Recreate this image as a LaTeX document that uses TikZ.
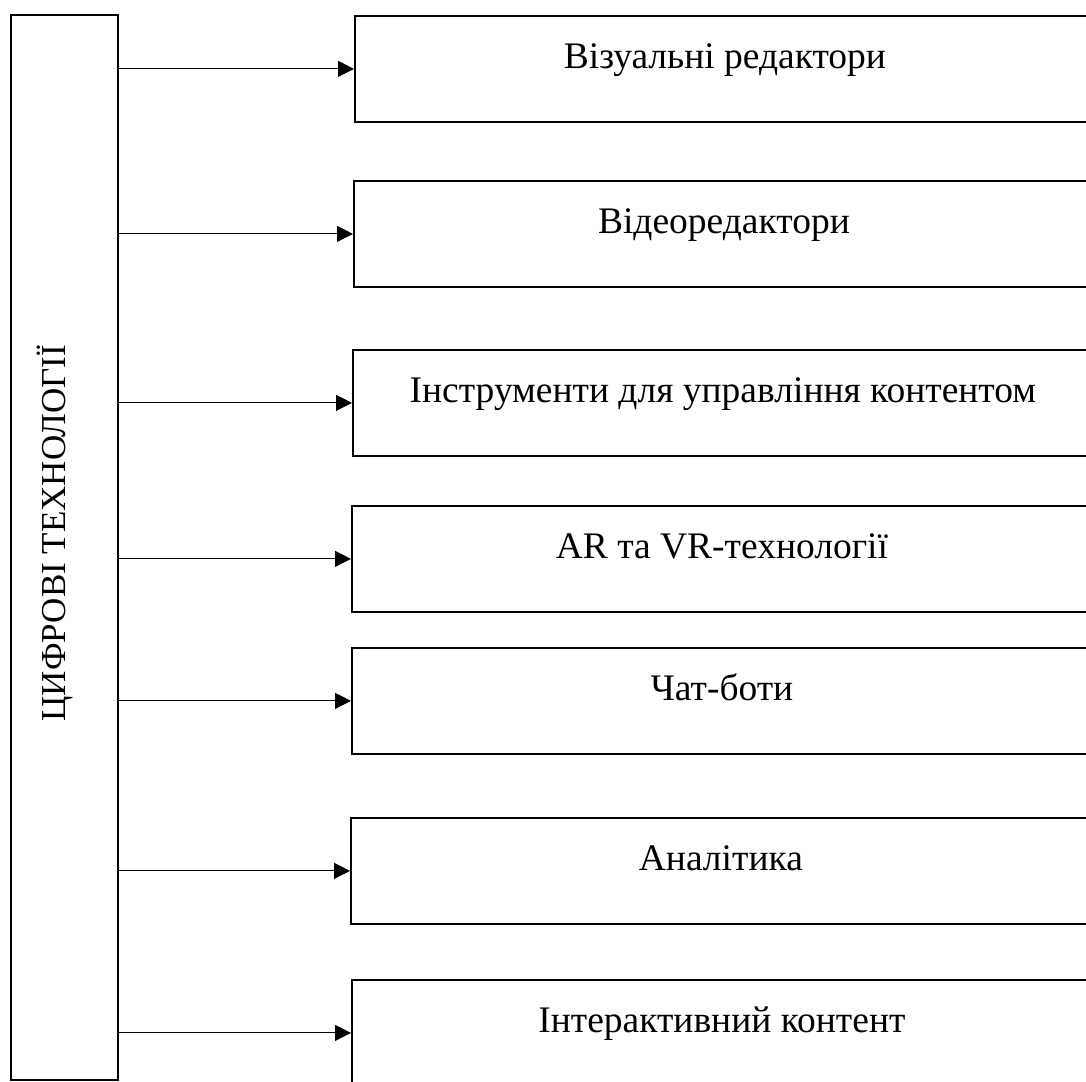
\documentclass[tikz,border=0pt]{standalone}
\usepackage{fontspec}
\setmainfont{Liberation Serif}
\usetikzlibrary{arrows.meta, positioning}
\tikzset{
  techbox/.style={rectangle, draw=black, line width=1.8pt,
    minimum width=107pt, minimum height=1065pt, inner sep=0pt},
  toolbox/.style={rectangle, draw=black, line width=1.8pt, anchor=north west,
    minimum width=740pt, minimum height=106pt, inner sep=0pt,
    font=\fontsize{37.5}{44}\selectfont, text height=25pt, text depth=25pt},
  arrow/.style={-{Triangle[length=16pt, width=16pt]}, line width=0.9pt, color=black}
}

\begin{document}
\begin{tikzpicture}[x=1pt, y=-1pt]
  \useasboundingbox (0,0) rectangle (1086,1081);
  % left column
  \node[techbox] (tech) at (64.5,547.5) {};
  \node[rotate=90, font=\fontsize{35}{42}\selectfont] (techlabel) at (55,533) {ЦИФРОВІ ТЕХНОЛОГІЇ};
  % right column
  \node[toolbox] (visual) at (354,15)  {Візуальні редактори};
  \node[toolbox] (video)  at (353,180) {Відеоредактори};
  \node[toolbox] (cms)    at (352,349) {Інструменти для управління контентом};
  \node[toolbox] (arvr)   at (351,505) {AR та VR-технології};
  \node[toolbox] (chat)   at (351,647) {Чат-боти};
  \node[toolbox] (stats)  at (350,817) {Аналітика};
  \node[toolbox] (inter)  at (351,979) {Інтерактивний контент};
  % arrows
  \foreach \b in {visual, video, cms, arvr, chat, stats, inter}
    \draw[arrow] (tech.east |- \b.west) -- (\b.west);
\end{tikzpicture}
\end{document}
